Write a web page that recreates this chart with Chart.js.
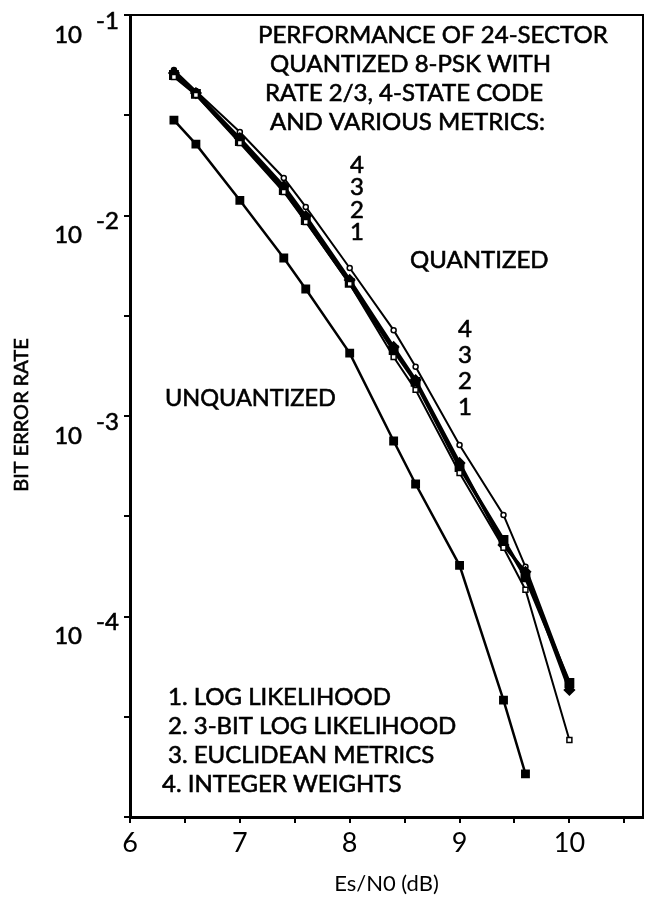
<!DOCTYPE html>
<html>
<head>
<meta charset="utf-8">
<script src="https://cdn.jsdelivr.net/npm/chart.js@4.4.1/dist/chart.umd.min.js"></script>
<style>
  html, body { margin: 0; padding: 0; background: #fff; overflow: hidden; }
  #wrap { width: 645px; height: 901px; }
  canvas { display: block; }
</style>
</head>
<body>
<div id="wrap"><canvas id="graphiqueBER" width="645" height="901"></canvas></div>
<script>
// Es/N0 (dB)
var esnoQuant = [6.4, 6.6, 7.0, 7.4, 7.6, 8.0, 8.4, 8.6, 9.0, 9.4, 9.6, 10.0];
var esnoUnquant = [6.4, 6.6, 7.0, 7.4, 7.6, 8.0, 8.4, 8.6, 9.0, 9.4, 9.6];

// bit error rate
var berUnquant = [0.0299, 0.0227, 0.0119, 0.00614, 0.0043, 0.00206, 7.5e-4, 4.58e-4, 1.8e-4, 3.83e-5, 1.64e-5];
var berLogLik = [0.0491, 0.0399, 0.0230, 0.0131, 0.00928, 0.00456, 0.00197, 0.00135, 5.2e-4, 2.2e-4, 1.36e-4, 2.42e-5];
var ber3Bit = [0.0502, 0.0404, 0.0235, 0.0134, 0.0095, 0.00461, 0.00213, 0.00148, 5.57e-4, 2.41e-4, 1.57e-4, 4.66e-5];
var berEuclid = [0.0514, 0.0408, 0.0243, 0.0140, 0.00994, 0.00477, 0.00221, 0.00151, 5.83e-4, 2.27e-4, 1.67e-4, 4.3e-5];
var berInteger = [0.0532, 0.0418, 0.0261, 0.01538, 0.01103, 0.00547, 0.00268, 0.00176, 7.17e-4, 3.21e-4, 1.77e-4, 4.66e-5];

var yTickExp = [-1, -2, -3, -4];
var xTickLabels = [6, 7, 8, 9, 10];

var titreLignes = ['PERFORMANCE OF 24-SECTOR', 'QUANTIZED 8-PSK WITH', 'RATE 2/3, 4-STATE CODE', 'AND VARIOUS METRICS:'];
var legendeLignes = ['1. LOG LIKELIHOOD', '2. 3-BIT LOG LIKELIHOOD', '3. EUCLIDEAN METRICS', '4. INTEGER WEIGHTS'];

function points(xs, ys) {
    return xs.map(function(x, i) { return { x: x, y: ys[i] }; });
}

var police = '"Lato", "DejaVu Sans", sans-serif';

// texte un peu plus gras (trait fin par-dessus)
function texte(ctx, t, x, y) {
    ctx.fillText(t, x, y);
    ctx.strokeText(t, x, y);
}

// textes, bordure haut/droite, étiquettes 10^n
var decorPlugin = {
    id: 'decor',
    afterDraw: function(chart) {
        var ctx = chart.ctx;
        var a = chart.chartArea;
        var ys = chart.scales.y;
        ctx.save();
        ctx.strokeStyle = '#000';
        ctx.lineWidth = 2;
        ctx.beginPath();
        ctx.moveTo(a.left, a.top);
        ctx.lineTo(a.right, a.top);
        ctx.lineTo(a.right, a.bottom);
        ctx.stroke();

        ctx.lineWidth = 0.6;
        ctx.fillStyle = '#000';
        ctx.textBaseline = 'middle';
        // étiquettes de l'axe y
        yTickExp.forEach(function(e) {
            var py = ys.getPixelForValue(Math.pow(10, e));
            ctx.font = '24px ' + police;
            ctx.textAlign = 'right';
            texte(ctx, '10', 82, py + 20);
            ctx.textAlign = 'left';
            texte(ctx, String(e), 96, py + 6);
        });

        ctx.font = '24px ' + police;
        ctx.textAlign = 'left';
        var tx = [258, 270, 265, 270];
        var ty = [35, 64, 93, 122];
        titreLignes.forEach(function(t, i) { texte(ctx, t, tx[i], ty[i]); });

        ctx.textAlign = 'center';
        ['4', '3', '2', '1'].forEach(function(t, i) {
            texte(ctx, t, 357, 165 + i * 22.5);
            texte(ctx, t, 465, 329 + i * 26);
        });

        ctx.textAlign = 'left';
        texte(ctx, 'QUANTIZED', 410, 260);
        ctx.font = '23.5px ' + police;
        texte(ctx, 'UNQUANTIZED', 165, 398);
        ctx.font = '24px ' + police;
        var lx = [168, 168, 168, 162];
        legendeLignes.forEach(function(t, i) { texte(ctx, t, lx[i], 697 + i * 29); });

        ctx.font = '20px ' + police;
        ctx.textAlign = 'center';
        ctx.translate(22, 415);
        ctx.rotate(-Math.PI / 2);
        texte(ctx, 'BIT ERROR RATE', 0, 0);
        ctx.restore();
    }
};

var ctx = document.getElementById('graphiqueBER').getContext('2d');
var chartBER = new Chart(ctx, {
    type: 'line',
    data: {
        datasets: [{
            label: 'UNQUANTIZED',
            data: points(esnoUnquant, berUnquant),
            borderColor: '#000',
            backgroundColor: '#000',
            borderWidth: 2.5,
            pointStyle: 'rect',
            pointRadius: 4.5
        }, {
            label: '1. LOG LIKELIHOOD',
            data: points(esnoQuant, berLogLik),
            borderColor: '#000',
            backgroundColor: '#fff',
            borderWidth: 2,
            pointStyle: 'rect',
            pointRadius: 3.5,
            pointBorderWidth: 1.5
        }, {
            label: '2. 3-BIT LOG LIKELIHOOD',
            data: points(esnoQuant, ber3Bit),
            borderColor: '#000',
            backgroundColor: '#000',
            borderWidth: 3.5,
            pointStyle: 'rect',
            pointRadius: 4.5
        }, {
            label: '3. EUCLIDEAN METRICS',
            data: points(esnoQuant, berEuclid),
            borderColor: '#000',
            backgroundColor: '#000',
            borderWidth: 3,
            pointStyle: 'rectRot',
            pointRadius: 4
        }, {
            label: '4. INTEGER WEIGHTS',
            data: points(esnoQuant, berInteger),
            borderColor: '#000',
            backgroundColor: '#fff',
            borderWidth: 2,
            pointStyle: 'circle',
            pointRadius: 2.5,
            pointBorderWidth: 1.5
        }]
    },
    options: {
        responsive: false,
        animation: false,
        layout: { autoPadding: false, padding: { top: 15, right: 2, left: 0, bottom: 0 } },
        plugins: { legend: { display: false }, tooltip: { enabled: false } },
        scales: {
            x: {
                type: 'linear',
                min: 6,
                max: 10.67,
                afterFit: function(s) { s.height = 84; s.paddingRight = 0; s.paddingLeft = 0; },
                afterBuildTicks: function(s) {
                    var t = [];
                    for (var v = 6; v <= 10.5; v += 0.5) t.push({ value: v });
                    s.ticks = t;
                },
                border: { display: true, color: '#000', width: 3 },
                grid: { drawOnChartArea: false, drawTicks: true, tickLength: 6, color: '#000', lineWidth: 2 },
                ticks: {
                    color: '#000',
                    font: { family: 'Lato', size: 27 },
                    padding: 4,
                    maxRotation: 0,
                    autoSkip: false,
                    callback: function(v) { return xTickLabels.indexOf(v) >= 0 ? String(v) : ''; }
                },
                title: {
                    display: true,
                    text: 'Es/N0 (dB)',
                    color: '#000',
                    font: { family: 'Lato', size: 22 },
                    padding: { top: 4 }
                }
            },
            y: {
                type: 'logarithmic',
                min: 1e-5,
                max: 1e-1,
                afterFit: function(s) { s.width = 130; },
                afterBuildTicks: function(s) {
                    var t = [];
                    for (var e = -5; e <= -1; e += 0.5) t.push({ value: Math.pow(10, e) });
                    s.ticks = t;
                },
                border: { display: true, color: '#000', width: 3 },
                grid: { drawOnChartArea: false, drawTicks: true, tickLength: 6, color: '#000', lineWidth: 2 },
                ticks: {
                    autoSkip: false,
                    callback: function() { return ''; }
                }
            }
        }
    },
    plugins: [decorPlugin]
});
</script>
</body>
</html>
